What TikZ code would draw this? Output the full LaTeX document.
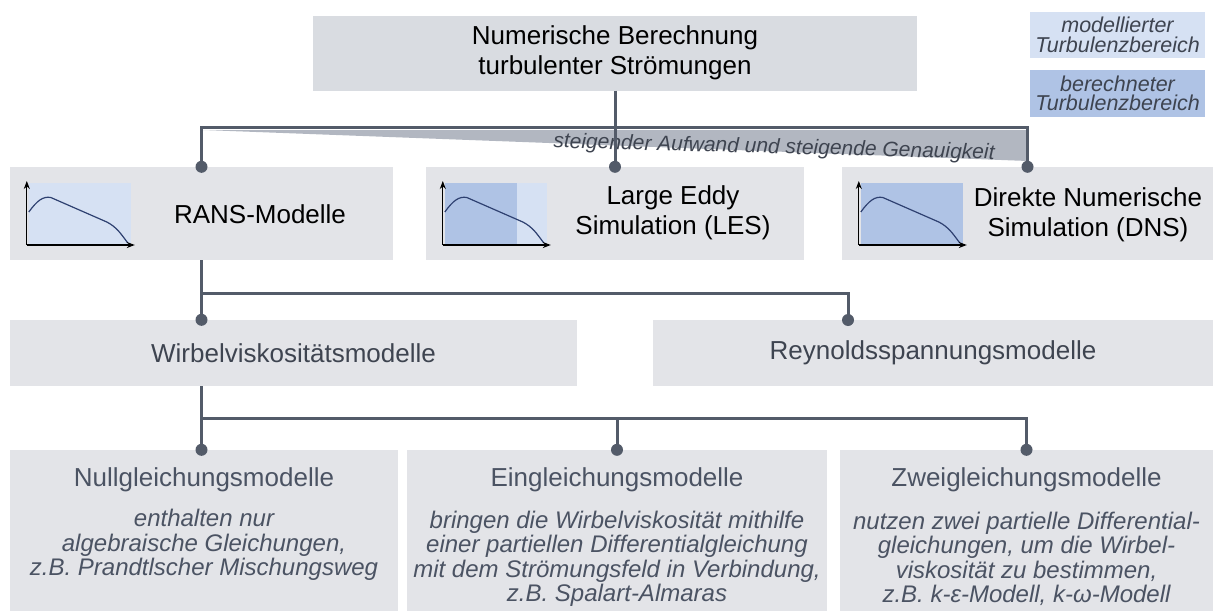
\documentclass[tikz,border=0pt]{standalone}
\usepackage{fontspec}
\setmainfont{Liberation Sans}
\usetikzlibrary{arrows.meta,calc}

\definecolor{kasten}{HTML}{E3E4E8}
\definecolor{kastendunkel}{HTML}{D9DCE1}
\definecolor{linie}{HTML}{535B69}
\definecolor{keil}{HTML}{B2B7C1}
\definecolor{hellblau}{HTML}{D6E1F3}
\definecolor{dunkelblau}{HTML}{AFC3E5}
\definecolor{kurve}{HTML}{2E4070}
\definecolor{schrift}{HTML}{4B5363}
\definecolor{schriftdunkel}{HTML}{3E4450}

\begin{document}
\begin{tikzpicture}[x=1pt,y=-1pt]
    \tikzset{
        kasten/.style={fill=kasten, inner sep=0pt},
        gross/.style={font=\fontsize{26}{30.5}\selectfont, align=center},
        klein/.style={font=\fontsize{24}{24.5}\selectfont\itshape, align=center, text=schrift},
        legende/.style={font=\fontsize{21.5}{19.5}\selectfont\itshape, align=center, text=schriftdunkel},
        verbinder/.style={draw=linie, line width=3pt},
    }
    \def\kurve{(2,33) .. controls (10,44) and (16,49) .. (24,47.5) -- (80,23) .. controls (90,18) and (95,10) .. (101,2)}
    \useasboundingbox (0,0) rectangle (1215,613);

    % oberste Ebene
    \node[kasten, fill=kastendunkel, minimum width=604pt, minimum height=75pt, gross] (top) at (615,53) {Numerische Berechnung\\turbulenter Str\"omungen};

    % Legende
    \node[kasten, fill=hellblau, minimum width=175pt, minimum height=46pt, legende] (modelliert) at (1117.5,35) {modellierter\\Turbulenzbereich};
    \node[kasten, fill=dunkelblau, minimum width=175pt, minimum height=47pt, legende] (berechnet) at (1117.5,93.5) {berechneter\\Turbulenzbereich};

    % RANS, LES, DNS
    \node[kasten, minimum width=383pt, minimum height=93pt] (rans) at (201.5,213.5) {};
    \node[kasten, minimum width=378pt, minimum height=93pt] (les) at (615,213.5) {};
    \node[kasten, minimum width=371pt, minimum height=93pt] (dns) at (1027.5,213.5) {};
    \node[gross] (ranstext) at (260,214) {RANS-Modelle};
    \node[gross] (lestext) at (673,213) {Large Eddy\\Simulation (LES)};
    \node[gross] (dnstext) at (1088,215) {Direkte Numerische\\Simulation (DNS)};

    \foreach \bild/\grenze in {rans/2, les/74, dns/104} {
        \begin{scope}[shift={($(\bild.west)+(17,31.5)$)}, yscale=-1]
            \fill[hellblau] (2,0) rectangle (104,62);
            \fill[dunkelblau] (2,0) rectangle (\grenze,62);
            \draw[kurve, line width=1.2pt] \kurve;
            \draw[-{Stealth[length=8pt,width=6pt]}, line width=1.2pt] (0,0) -- (0,64);
            \draw[-{Stealth[length=8pt,width=6pt]}, line width=1.2pt] (0,0) -- (108,0);
        \end{scope}
    }

    % Keil: steigender Aufwand
    \fill[keil] (203,130) -- (1028,130) -- (1028,161) -- cycle;
    \node[rotate=-1.5, font=\fontsize{21}{21}\selectfont\itshape, text=schriftdunkel] (aufwand) at (774,148) {steigender Aufwand und steigende Genauigkeit};

    \coordinate (bus1) at (615,127);
    \draw[verbinder] (top.south) -- (les.north);
    \draw[verbinder] (rans.north) |- (bus1) -| (dns.north);
    \foreach \n in {rans,les,dns}
        \fill[linie] (\n.north) circle (6pt);

    % zweite Ebene
    \node[kasten, minimum width=567pt, minimum height=66pt, gross, text=schriftdunkel] (wirbel) at (293.5,353) {Wirbelviskosit\"atsmodelle};
    \node[kasten, minimum width=560pt, minimum height=66pt, gross, text=schriftdunkel] (reynolds) at (933,353) {Reynoldsspannungsmodelle};

    \coordinate (bus2) at (201.5,293);
    \coordinate (rdot) at (848,320);
    \draw[verbinder] (rans.south) -- (rans.south |- wirbel.north);
    \draw[verbinder] (bus2) -| (rdot);
    \fill[linie] (rans.south |- wirbel.north) circle (6pt);
    \fill[linie] (rdot) circle (6pt);

    % dritte Ebene
    \node[kasten, minimum width=388pt, minimum height=161pt] (null) at (204,530.5) {};
    \node[kasten, minimum width=420pt, minimum height=161pt] (eins) at (617,530.5) {};
    \node[kasten, minimum width=373pt, minimum height=161pt] (zwei) at (1026.5,530.5) {};

    \node[gross, text=schrift] (nulltitel) at (204,480) {Nullgleichungsmodelle};
    \node[gross, text=schrift] (einstitel) at (617,480) {Eingleichungsmodelle};
    \node[gross, text=schrift] (zweititel) at (1026.5,480) {Zweigleichungsmodelle};

    \node[klein] (nulltext) at (204,545) {enthalten nur\\algebraische Gleichungen,\\z.B. Prandtlscher Mischungsweg};
    \node[klein] (einstext) at (617,559) {bringen die Wirbelviskosit\"at mithilfe\\einer partiellen Differentialgleichung\\mit dem Str\"omungsfeld in Verbindung,\\z.B. Spalart-Almaras};
    \node[klein] (zweitext) at (1026.5,559) {nutzen zwei partielle Differential-\\gleichungen, um die Wirbel-\\viskosit\"at zu bestimmen,\\z.B. k-ε-Modell, k-ω-Modell};

    \coordinate (bus3) at (201.5,418);
    \draw[verbinder] (rans.south |- wirbel.south) -- (rans.south |- null.north);
    \draw[verbinder] (bus3) -| (zwei.north);
    \draw[verbinder] (bus3 -| eins.north) -- (eins.north);
    \fill[linie] (rans.south |- null.north) circle (6pt);
    \foreach \n in {eins,zwei}
        \fill[linie] (\n.north) circle (6pt);
\end{tikzpicture}
\end{document}
